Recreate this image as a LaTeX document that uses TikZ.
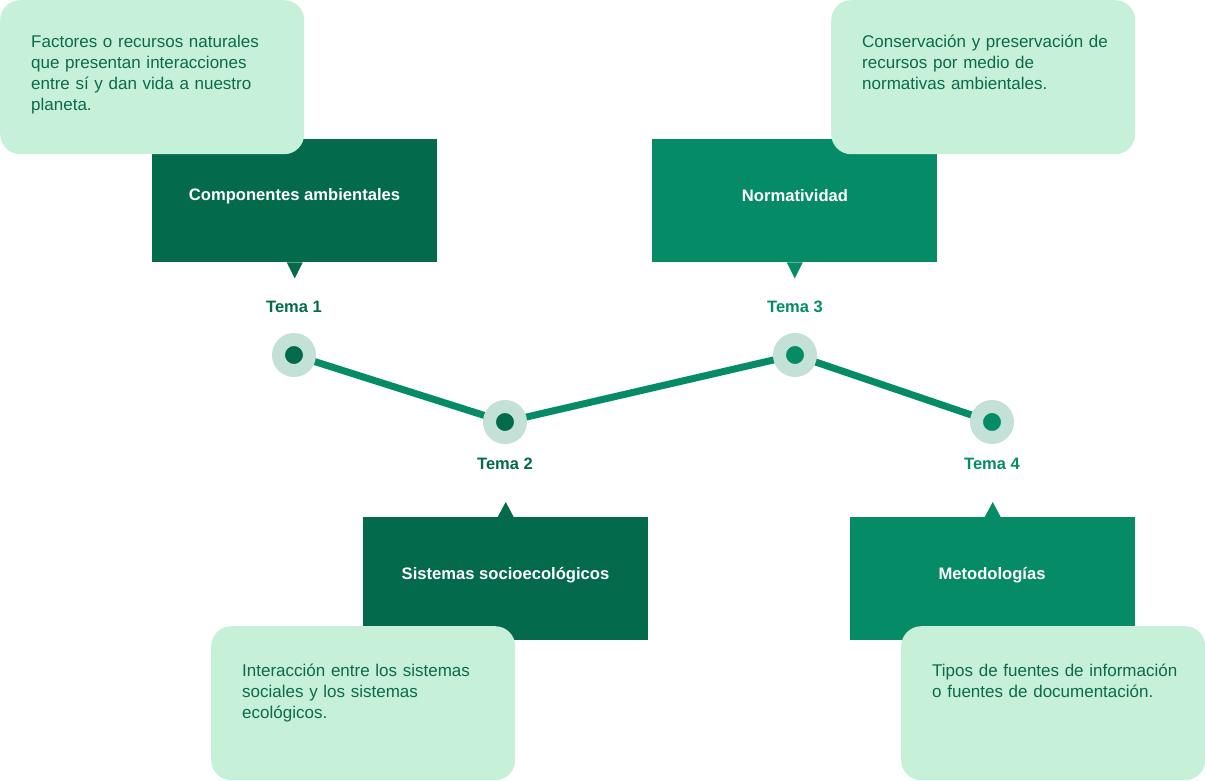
\documentclass[tikz,border=0pt]{standalone}
\usepackage{fontspec}
\setmainfont{Liberation Sans}
\definecolor{darkg}{HTML}{036A4C}
\definecolor{midg}{HTML}{058C66}
\definecolor{lightg}{HTML}{C6F1D8}
\definecolor{ringg}{HTML}{C3E1D7}
\definecolor{txtg}{HTML}{0B6A4B}
\tikzset{
  darkbox/.style={rectangle, fill=darkg, inner sep=0pt, minimum width=285pt, minimum height=123pt, anchor=north west},
  midbox/.style={darkbox, fill=midg},
  notebox/.style={rectangle, rounded corners=20pt, fill=lightg, inner sep=0pt, minimum width=304pt, minimum height=154pt, anchor=north west},
  notetext/.style={anchor=base west, inner sep=0pt, text width=265pt, align=left, text=txtg, font=\fontsize{17}{21}\selectfont},
  titletext/.style={text=white, font=\fontsize{16.6}{19}\selectfont\bfseries, inner sep=0pt},
  tematext/.style={font=\fontsize{16.5}{19}\selectfont\bfseries, inner sep=0pt},
  dotnode/.style={circle, draw=ringg, line width=13pt, minimum size=31pt, inner sep=0pt},
  trail/.style={draw=midg, line width=7pt},
}
\begin{document}
\begin{tikzpicture}[x=1pt, y=-1pt]
\useasboundingbox (0,0) rectangle (1205,781);
% path
\coordinate (p1) at (294,355);
\coordinate (p2) at (505,422);
\coordinate (p3) at (795,355);
\coordinate (p4) at (992,422);
\draw[trail] (p1) -- (p2) -- (p3) -- (p4);
\node[dotnode, fill=darkg] (c1) at (p1) {};
\node[dotnode, fill=darkg] (c2) at (p2) {};
\node[dotnode, fill=midg] (c3) at (p3) {};
\node[dotnode, fill=midg] (c4) at (p4) {};
% tema labels
\node[tematext, text=darkg] (t1) at (294,307) {Tema 1};
\node[tematext, text=darkg] (t2) at (505,464) {Tema 2};
\node[tematext, text=midg] (t3) at (795,307) {Tema 3};
\node[tematext, text=midg] (t4) at (992,464) {Tema 4};
% dark boxes
\node[darkbox] (d1) at (152,139) {};
\node[midbox] (d3) at (652,139) {};
\node[darkbox] (d2) at (363,517) {};
\node[midbox] (d4) at (850,517) {};
% tabs
\fill[darkg] ([xshift=-8pt]d1.south) -- ([yshift=-16pt]d1.south) -- ([xshift=8pt]d1.south) -- cycle;
\fill[midg] ([xshift=-8pt]d3.south) -- ([yshift=-16pt]d3.south) -- ([xshift=8pt]d3.south) -- cycle;
\fill[darkg] ([xshift=-8pt]d2.north) -- ([yshift=15pt]d2.north) -- ([xshift=8pt]d2.north) -- cycle;
\fill[midg] ([xshift=-8pt]d4.north) -- ([yshift=15pt]d4.north) -- ([xshift=8pt]d4.north) -- cycle;
% titles
\node[titletext] (h1) at (294.5,196) {Componentes ambientales};
\node[titletext] (h3) at (795,196) {Normatividad};
\node[titletext] (h2) at (505.5,575) {Sistemas socioecológicos};
\node[titletext] (h4) at (992,575) {Metodologías};
% note boxes
\node[notebox] (n1) at (0,0) {};
\node[notebox] (n3) at (831,0) {};
\node[notebox] (n2) at (211,626) {};
\node[notebox] (n4) at (901,626) {};
\node[notetext] (m1) at (31,48) {Factores o recursos naturales\\que presentan interacciones\\entre sí y dan vida a nuestro\\planeta.};
\node[notetext] (m3) at (862,48) {Conservación y preservación de\\recursos por medio de\\normativas ambientales.};
\node[notetext] (m2) at (242,676) {Interacción entre los sistemas\\sociales y los sistemas\\ecológicos.};
\node[notetext] (m4) at (932,676) {Tipos de fuentes de información\\o fuentes de documentación.};
\end{tikzpicture}
\end{document}
